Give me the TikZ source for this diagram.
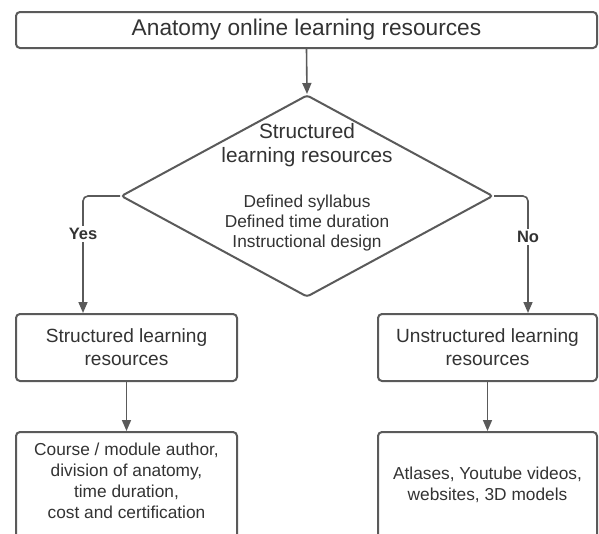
\documentclass[tikz,border=0pt]{standalone}
\usepackage{fontspec}
\setmainfont{Liberation Sans}
\usetikzlibrary{shapes.geometric,arrows.meta}

\definecolor{edgegray}{HTML}{5A5A5A}
\definecolor{textgray}{HTML}{333333}

\tikzset{
  box/.style={draw=edgegray, line width=2pt, rounded corners=4pt, fill=white,
    inner sep=0pt, text=textgray, align=center},
  decision/.style={diamond, draw=edgegray, line width=2pt, rounded corners=3pt,
    inner sep=0pt, fill=white},
  label/.style={text=textgray, align=center, inner sep=0pt},
  link/.style={draw=edgegray, line width=1.6pt, rounded corners=5pt,
    -{Triangle[length=11pt,width=9pt]}},
  answer/.style={fill=white, text=textgray, inner sep=2pt,
    font=\bfseries\fontsize{16.5}{19}\selectfont},
}

\begin{document}
\begin{tikzpicture}[x=1pt, y=-1pt]
  \useasboundingbox (0,0) rectangle (599,533);
  \clip (0,0) rectangle (599,533);

  % root box
  \node[box, minimum width=581pt, minimum height=36pt,
        font=\fontsize{22.7}{26}\selectfont] (root) at (306.5,30)
        {Anatomy online learning resources};

  % decision diamond and its texts
  \node[decision, minimum width=372pt, minimum height=202pt] (dia) at (307,196) {};
  \node[label, font=\fontsize{20.8}{24}\selectfont] (diatitle) at (307,145)
        {Structured\\learning resources};
  \node[label, font=\fontsize{17.3}{20}\selectfont] (diadetail) at (307,223)
        {Defined syllabus\\Defined time duration\\Instructional design};

  % second row
  \node[box, minimum width=221pt, minimum height=67pt,
        font=\fontsize{19.1}{23}\selectfont] (sl) at (126.5,347.5)
        {Structured learning\\resources};
  \node[box, minimum width=219pt, minimum height=67pt,
        font=\fontsize{19.1}{23}\selectfont] (ul) at (487.5,347.5)
        {Unstructured learning\\resources};

  % third row (boxes run past the lower edge)
  \node[box, minimum width=221pt, minimum height=140pt] (sd) at (126.5,502) {};
  \node[box, minimum width=219pt, minimum height=140pt] (ud) at (487.5,502) {};
  \node[label, font=\fontsize{17.3}{21}\selectfont] (sdtext) at (126.5,480.5)
        {Course / module author,\\division of anatomy,\\time duration,\\cost and certification};
  \node[label, font=\fontsize{17.3}{21}\selectfont] (udtext) at (487.5,484.5)
        {Atlases, Youtube videos,\\websites, 3D models};

  % connectors
  \coordinate (yesbend) at (83,196);
  \coordinate (nobend) at (528,196);
  \draw[link] (root.south) -- (dia.north);
  \draw[link] (dia.west) -- (yesbend) -- (yesbend |- sl.north);
  \draw[link] (dia.east) -- (nobend) -- (nobend |- ul.north);
  \draw[link] (sl.south) -- (sd.north);
  \draw[link] (ul.south) -- (ud.north);

  % branch labels
  \node[answer] (yes) at (83,234) {Yes};
  \node[answer] (no) at (528,237) {No};
\end{tikzpicture}
\end{document}
